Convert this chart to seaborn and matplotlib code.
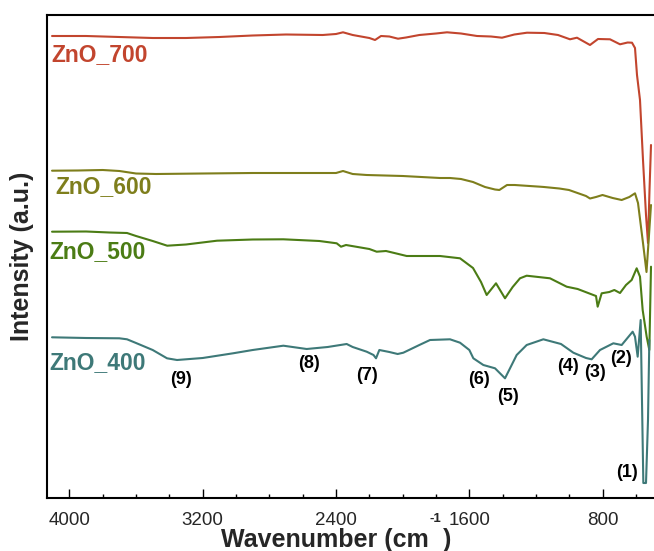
import matplotlib
matplotlib.use("Agg")
import matplotlib.pyplot as plt
import numpy as np
import pandas as pd
import seaborn as sns
from matplotlib.ticker import MultipleLocator, FixedLocator

sns.set_style("white")
plt.rcParams["font.family"] = ["Liberation Sans", "DejaVu Sans"]

# ---------------- data (intensity in arbitrary units) ----------------
samples = ["ZnO_700", "ZnO_600", "ZnO_500", "ZnO_400"]
colors = ["#C2452E", "#7E7E1C", "#4B7C15", "#3E7978"]

wn_700 = [4104, 3900, 3700, 3500, 3300, 3100, 2900, 2700, 2480, 2400, 2358, 2300, 2200, 2166, 2130,
          2080, 2028, 1980, 1900, 1800, 1734, 1650, 1554, 1470, 1404, 1330, 1254, 1150, 1068, 996,
          954, 876, 828, 756, 696, 650, 624, 606, 594, 576, 558, 540, 528, 519, 510]
int_700 = [464, 464, 463, 462, 462, 463, 464.5, 465.5, 465, 466, 467.7, 465, 462, 460, 464,
           463.5, 461.3, 462.5, 465, 466.5, 467.7, 466.5, 464, 463.5, 462.3, 465.5, 467.3, 467, 465, 460.7,
           462.3, 455, 461, 460.7, 455.7, 457.5, 457.3, 452, 425, 400, 340, 285, 257, 310, 355]

wn_600 = [4104, 3950, 3800, 3700, 3600, 3480, 3200, 2900, 2600, 2400, 2358, 2300, 2216, 2000, 1776,
          1716, 1650, 1578, 1506, 1446, 1420, 1374, 1328, 1176, 1152, 1060, 1002, 900, 876, 840,
          801, 740, 686, 640, 606, 588, 558, 537, 522, 510]
int_600 = [329.3, 329.5, 330, 329, 326.5, 326, 326.5, 327, 327, 327, 329, 326, 325, 324, 322,
           322, 321, 318, 313, 310.5, 310, 315, 315, 313.3, 313, 311.5, 310, 304, 301.5, 303,
           305, 302, 300, 303, 306.7, 297, 257, 228, 265, 295]

wn_500 = [4104, 3900, 3760, 3654, 3600, 3500, 3413, 3300, 3114, 2900, 2716, 2500, 2396, 2370, 2340,
          2200, 2156, 2100, 2050, 1976, 1850, 1776, 1656, 1578, 1530, 1496, 1440, 1386, 1340, 1296,
          1256, 1116, 1016, 950, 856, 840, 830, 806, 760, 730, 696, 660, 626, 596, 576,
          560, 536, 520, 510]
int_500 = [268.3, 268.5, 267.5, 267, 264, 259, 254.3, 255.5, 259.3, 260.5, 260.7, 259, 256.7, 253.3, 255,
           251, 248.3, 249, 247, 244, 244, 244, 241.7, 232, 218, 205, 216.7, 201.7, 213, 221.7,
           224.3, 221.7, 213.3, 211, 205, 204, 193.3, 206.7, 208, 210, 207, 215, 220, 231.7, 223.3,
           190, 163.3, 150, 233.3]

wn_400 = [4104, 3900, 3700, 3654, 3600, 3500, 3414, 3354, 3200, 3018, 2900, 2716, 2576, 2450, 2336,
          2300, 2216, 2175, 2160, 2140, 2080, 2030, 1996, 1900, 1836, 1716, 1656, 1600, 1576, 1516,
          1446, 1386, 1316, 1256, 1156, 1050, 976, 900, 866, 816, 736, 686, 620, 606, 590,
          572, 556, 540, 528, 520]
int_400 = [162.7, 162, 161.7, 160.7, 157, 150, 141.7, 140, 142, 146.7, 150, 154.3, 151, 153, 156,
           153, 148.3, 145, 141.7, 150, 148, 146, 147.3, 155, 160, 160.7, 157.3, 150, 141.7, 135,
           131.7, 121.7, 145, 155, 160.7, 156, 147.3, 142, 140.7, 150, 156.7, 155, 168.3, 163.3, 143.3,
           180, 17, 17, 80, 160]

peak_labels = ["(1)", "(2)", "(3)", "(4)", "(5)", "(6)", "(7)", "(8)", "(9)"]
peak_wn = [656, 690, 846, 1006, 1370, 1540, 2216, 2564, 3330]
peak_y = [27.3, 141.7, 127.3, 133.3, 103.3, 120.7, 124, 136, 120]

xticks_major = [4000, 3200, 2400, 1600, 800]

# ---------------- build table ----------------
frames = []
for name, wn, iv in zip(samples, [wn_700, wn_600, wn_500, wn_400],
                        [int_700, int_600, int_500, int_400]):
    frames.append(pd.DataFrame({"wn": wn, "intensity": iv, "sample": name}))
df = pd.concat(frames, ignore_index=True)

W, H = 654, 551
fig = plt.figure(figsize=(W / 100, H / 100), dpi=100)
ax = fig.add_axes([46.7 / W, (H - 498.3) / H, (W - 46.7) / W, (498.3 - 15) / H])

sns.lineplot(data=df, x="wn", y="intensity", hue="sample", hue_order=samples,
             palette=dict(zip(samples, colors)), estimator=None, sort=False,
             legend=False, linewidth=1.5, ax=ax)

ax.set_xlim(4136, 492)
ax.set_ylim(1.7, 485)

# sample labels
label_pos = [(4106, 445), (4086, 313.5), (4122, 248.3), (4122, 137)]
for name, col, (lx, ly) in zip(samples, colors, label_pos):
    ax.text(lx, ly, name, color=col, fontsize=16.5, fontweight="bold",
            ha="left", va="center")

for lab, px, py in zip(peak_labels, peak_wn, peak_y):
    ax.text(px, py, lab, fontsize=13, fontweight="bold", ha="center", va="center", color="black")

# axes styling
for s in ["left", "bottom", "top"]:
    ax.spines[s].set_visible(True)
    ax.spines[s].set_color("black")
    ax.spines[s].set_linewidth(1.5)
ax.spines["right"].set_visible(False)

ax.xaxis.set_major_locator(FixedLocator(xticks_major))
ax.xaxis.set_minor_locator(MultipleLocator(200))
ax.set_xticklabels([str(t) for t in xticks_major])
ax.tick_params(axis="x", which="major", direction="in", length=6.7, width=1.0,
               labelsize=13.5, pad=10, color="black", bottom=True, top=False)
ax.tick_params(axis="x", which="minor", direction="in", length=3.1, width=1.0,
               color="black", bottom=True, top=False)
ax.set_yticks([])
ax.set_xlabel("")
ax.set_ylabel("")

# y label
fig.text(22 / W, (H - 256) / H, "Intensity (a.u.)", rotation=90, fontsize=18,
         fontweight="bold", ha="center", va="center")

# x label with raised superscript
fig.canvas.draw()
r = fig.canvas.get_renderer()
base_y = (H - 547.5) / H
t1 = fig.text(0, base_y, "Wavenumber (cm", fontsize=18, fontweight="bold", ha="left", va="baseline")
t2 = fig.text(0, (H - 521.7) / H, "-1", fontsize=9.5, fontweight="bold", ha="left", va="baseline")
t3 = fig.text(0, base_y, ")", fontsize=18, fontweight="bold", ha="left", va="baseline")
w1 = t1.get_window_extent(r).width
w2 = t2.get_window_extent(r).width
w3 = t3.get_window_extent(r).width
gap = 1.5
total = w1 + gap + w2 + gap + w3
x0 = 336 - total / 2
t1.set_x(x0 / W)
t2.set_x((x0 + w1 + gap) / W)
t3.set_x((x0 + w1 + gap + w2 + gap) / W)

fig.savefig("out.png", dpi=100)
